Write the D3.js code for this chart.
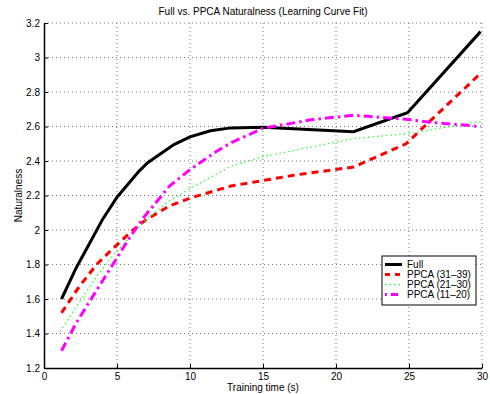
<!DOCTYPE html>
<html>
<head>
<meta charset="utf-8">
<script src="https://cdn.jsdelivr.net/npm/d3@7"></script>
<style>
  body { margin: 0; background: #fff; }
  text { font-family: "Liberation Sans", Arial, sans-serif; }
</style>
</head>
<body>
<svg id="chart" width="490" height="394"></svg>
<script>
// series values: [training time, naturalness]
const fullData = [[1.2,1.6],[2.2,1.78],[3.2,1.935],[4,2.06],[5,2.19],[6.5,2.34],[7.1,2.39],[8.9,2.495],[10,2.54],[11.4,2.575],[12.8,2.592],[15,2.595],[21.2,2.57],[24.9,2.68],[29.9,3.15]];
const ppca3139 = [[1.2,1.52],[2.4,1.67],[3.6,1.8],[4.75,1.895],[6.1,2.0],[7,2.06],[8.6,2.14],[10,2.185],[12.8,2.255],[17.3,2.32],[21.2,2.365],[24.8,2.5],[29.8,2.9]];
const ppca2130 = [[1.1,1.41],[2.4,1.58],[3.6,1.73],[4.75,1.855],[5.9,1.96],[7,2.06],[8.6,2.17],[10,2.24],[12.8,2.37],[15,2.425],[21.2,2.53],[25,2.56],[29.9,2.63]];
const ppca1120 = [[1.2,1.3],[2.2,1.46],[3.6,1.65],[4.75,1.805],[5.9,1.96],[6.8,2.07],[8.6,2.255],[10,2.35],[11.8,2.455],[12.8,2.505],[15,2.59],[18.4,2.64],[21.2,2.665],[25,2.64],[26.4,2.625],[29.9,2.6]];

const seriesNames = ['Full', 'PPCA (31\u201339)', 'PPCA (21\u201330)', 'PPCA (11\u201320)'];
const xTicks = [0, 5, 10, 15, 20, 25, 30];
const yTicks = [1.2, 1.4, 1.6, 1.8, 2, 2.2, 2.4, 2.6, 2.8, 3, 3.2];

const margin = {top: 23, right: 8, bottom: 26, left: 44};
const width = 490 - margin.left - margin.right;
const height = 394 - margin.top - margin.bottom;

const svg = d3.select('#chart')
  .append('g')
  .attr('transform', 'translate(' + margin.left + ',' + margin.top + ')');

const x = d3.scaleLinear().domain([0, 30]).range([0, width]);
const y = d3.scaleLinear().domain([1.2, 3.2]).range([height, 0]);

// dotted grid
svg.append('g')
  .selectAll('line')
  .data(xTicks.slice(1))
  .enter().append('line')
  .attr('x1', d => x(d)).attr('x2', d => x(d))
  .attr('y1', 0).attr('y2', height)
  .style('stroke', '#777').style('stroke-width', 1)
  .style('stroke-dasharray', '1,3');
svg.append('g')
  .selectAll('line')
  .data(yTicks.slice(1))
  .enter().append('line')
  .attr('x1', 0).attr('x2', width)
  .attr('y1', d => y(d)).attr('y2', d => y(d))
  .style('stroke', '#777').style('stroke-width', 1)
  .style('stroke-dasharray', '1,3');

// axes, ticks pointing inward
const xAxis = svg.append('g')
  .attr('transform', 'translate(0,' + height + ')')
  .call(d3.axisBottom(x).tickValues(xTicks).tickSize(-4).tickPadding(5).tickSizeOuter(0));
const yAxis = svg.append('g')
  .call(d3.axisLeft(y).tickValues(yTicks).tickFormat(d3.format('')).tickSize(-4).tickPadding(4).tickSizeOuter(0));
[xAxis, yAxis].forEach(a => {
  a.select('.domain').style('stroke', '#000').style('stroke-width', 1.5);
  a.selectAll('.tick line').style('stroke', '#000');
  a.selectAll('text').style('font-size', '10px').style('fill', '#000')
    .style('font-family', '"Liberation Sans", Arial, sans-serif');
});

const line = d3.line().x(d => x(d[0])).y(d => y(d[1]));

const styles = [
  {data: fullData, color: '#000', w: 3, dash: null, legDash: null},
  {data: ppca3139, color: '#ff0000', w: 3, dash: '7,5', legDash: '5,5'},
  {data: ppca2130, color: '#33ff33', w: 1.3, dash: '1.5,3', legDash: '1.5,3'},
  {data: ppca1120, color: '#ff00ff', w: 3, dash: '9,4,2.5,4', legDash: '2,4,7,4'}
];

styles.forEach(s => {
  svg.append('path')
    .datum(s.data)
    .attr('d', line)
    .style('fill', 'none')
    .style('stroke', s.color)
    .style('stroke-width', s.w)
    .style('stroke-dasharray', s.dash);
});

// title and labels
svg.append('text')
  .attr('x', width / 2).attr('y', -8)
  .attr('text-anchor', 'middle')
  .style('font-size', '10px')
  .text('Full vs. PPCA Naturalness (Learning Curve Fit)');
svg.append('text')
  .attr('x', width / 2).attr('y', height + 23)
  .attr('text-anchor', 'middle')
  .style('font-size', '10px')
  .text('Training time (s)');
svg.append('text')
  .attr('transform', 'translate(-22,' + (height / 2) + ') rotate(-90)')
  .attr('text-anchor', 'middle')
  .style('font-size', '10px')
  .text('Naturalness');

// legend
const legend = svg.append('g')
  .attr('transform', 'translate(' + (382 - margin.left) + ',' + (256 - margin.top) + ')');
legend.append('rect')
  .attr('width', 94).attr('height', 49)
  .style('fill', '#fff').style('stroke', '#000').style('stroke-width', 1);
styles.forEach((s, i) => {
  const ly = 8.5 + i * 10;
  legend.append('line')
    .attr('x1', 3).attr('x2', 20)
    .attr('y1', ly).attr('y2', ly)
    .style('stroke', s.color)
    .style('stroke-width', s.w)
    .style('stroke-dasharray', s.legDash);
  legend.append('text')
    .attr('x', 25).attr('y', ly + 3.5)
    .style('font-size', '10px')
    .text(seriesNames[i]);
});
</script>
</body>
</html>
